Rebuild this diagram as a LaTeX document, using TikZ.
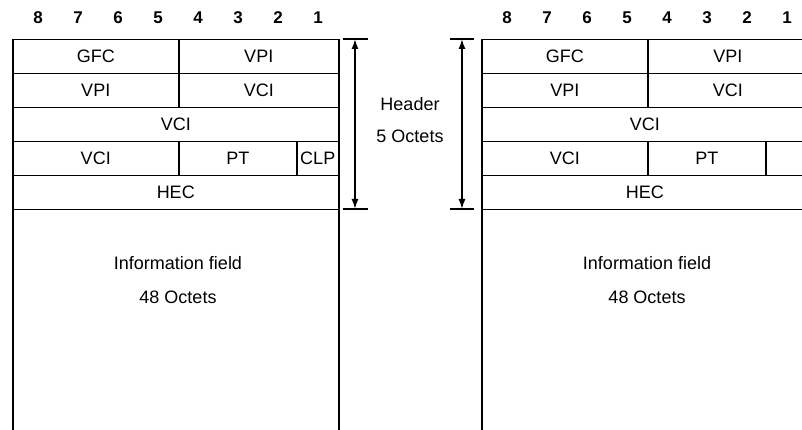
\documentclass[tikz,border=0pt]{standalone}
\usepackage{fontspec}
\setmainfont{Liberation Sans}
\usetikzlibrary{arrows.meta,positioning}

\begin{document}
\begin{tikzpicture}[x=1pt, y=-1pt,
  field/.style={draw, rectangle, anchor=north west, minimum height=34pt, inner sep=0pt, font=\fontsize{18}{20}\selectfont},
  bit/.style={font=\bfseries\fontsize{17}{19}\selectfont},
  lbl/.style={font=\fontsize{18}{20}\selectfont},
  >={Latex[length=10pt,width=7pt]},
  line width=1.5pt
]
  \useasboundingbox (0,0) rectangle (802,430);
  \clip (0,0) rectangle (802,430);

  % two copies of the cell, the right one runs off the page
  \foreach \c/\dx/\clp in {L/0/CLP, R/469/{}} {
    \foreach \b [count=\k] in {8,7,6,5,4,3,2,1}
      \node[bit] (bit\c\b) at (\dx-2+40*\k, 18) {\b};

    \node[field, minimum width=166pt] (gfc\c)  at (12+\dx,39)  {GFC};
    \node[field, minimum width=160pt] (vpiA\c) at (178+\dx,39) {VPI};
    \node[field, minimum width=166pt] (vpiB\c) at (12+\dx,73)  {VPI};
    \node[field, minimum width=160pt] (vciA\c) at (178+\dx,73) {VCI};
    \node[field, minimum width=326pt] (vciB\c) at (12+\dx,107) {VCI};
    \node[field, minimum width=166pt] (vciC\c) at (12+\dx,141) {VCI};
    \node[field, minimum width=118pt] (pt\c)   at (178+\dx,141) {PT};
    \node[field, minimum width=42pt]  (clp\c)  at (296+\dx,141) {\clp};
    \node[field, minimum width=326pt] (hec\c)  at (12+\dx,175) {HEC};
    \node[field, minimum width=326pt, minimum height=226pt] (info\c) at (12+\dx,209) {};

    \node[lbl] (infoA\c) at (178+\dx,263) {Information field};
    \node[lbl] (infoB\c) at (178+\dx,297) {48 Octets};
  }

  % header span, left
  \coordinate (ltickA) at (343,39);  \coordinate (ltickB) at (368,39);
  \coordinate (lbotA)  at (343,209); \coordinate (lbotB)  at (368,209);
  \coordinate (lup) at (355,39);     \coordinate (ldown) at (355,209);
  \draw (ltickA) -- (ltickB);
  \draw (lbotA) -- (lbotB);
  \draw[<->] (lup) -- (ldown);

  % header span, right
  \coordinate (rtickA) at (450,39);  \coordinate (rtickB) at (474,39);
  \coordinate (rbotA)  at (450,209); \coordinate (rbotB)  at (474,209);
  \coordinate (rup) at (462,39);     \coordinate (rdown) at (462,209);
  \draw (rtickA) -- (rtickB);
  \draw (rbotA) -- (rbotB);
  \draw[<->] (rup) -- (rdown);

  \node[lbl] (hdr) at (410,104) {Header};
  \node[lbl] (hdrsize) at (410,136) {5 Octets};
\end{tikzpicture}
\end{document}
